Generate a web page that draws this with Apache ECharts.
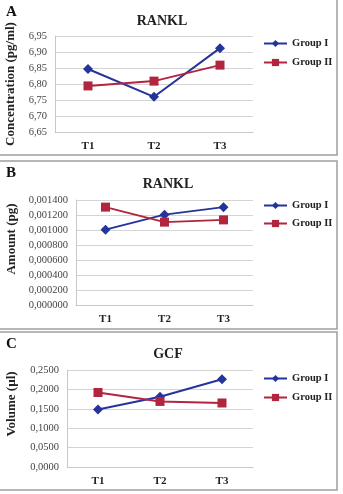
<!DOCTYPE html>
<html>
<head>
<meta charset="utf-8">
<script src="https://cdn.jsdelivr.net/npm/echarts@6/dist/echarts.min.js"></script>
<style>html,body{margin:0;padding:0;background:#fff}#c{width:343px;height:494px}</style>
</head>
<body>
<div id="c"></div>
<script>
var categories = ['T1', 'T2', 'T3'];
var seriesNames = ['Group I', 'Group II'];
// Panel A: RANKL concentration (pg/ml)
var aGroup1 = [6.847, 6.760, 6.912];
var aGroup2 = [6.794, 6.809, 6.859];
var aTicks = [6.65, 6.95, 0.05];
// Panel B: RANKL amount (pg)
var bGroup1 = [0.001005, 0.001205, 0.001305];
var bGroup2 = [0.001305, 0.001105, 0.001135];
var bTicks = [0, 0.0014, 0.0002];
// Panel C: GCF volume (µl)
var cGroup1 = [0.148, 0.181, 0.226];
var cGroup2 = [0.192, 0.169, 0.165];
var cTicks = [0, 0.25, 0.05];

var titles = ['RANKL', 'RANKL', 'GCF'];
var letters = ['A', 'B', 'C'];
var yNames = ['Concentration (pg/ml)', 'Amount (pg)', 'Volume (µl)'];

var BLUE = '#25349b', RED = '#b1253f';
var serif = '"Liberation Serif", "DejaVu Serif", serif';

function fmt(dec) {
  return function (v) { return v.toFixed(dec).replace('.', ','); };
}

var grids = [
  {left: 55, top: 36, width: 198, height: 96},
  {left: 76, top: 200, width: 177, height: 105},
  {left: 67, top: 370, width: 186, height: 97}
];
var ticks = [aTicks, bTicks, cTicks];
var decs = [2, 6, 4];
var data = [[aGroup1, aGroup2], [bGroup1, bGroup2], [cGroup1, cGroup2]];

var xAxes = [], yAxes = [], series = [], legends = [], titleArr = [];
var legendTops = [38, 200, 373];
var legendGaps = [8, 7, 8];
var titleTops = [9, 172, 342];
var titleCenters = [157, 163, 163];

for (var i = 0; i < 3; i++) {
  xAxes.push({
    type: 'category', gridIndex: i, data: categories,
    axisLine: {show: true, lineStyle: {color: '#c8c8c8', width: 1}},
    axisTick: {show: false},
    axisLabel: {color: '#222', fontFamily: serif, fontWeight: 'bold', fontSize: 11, margin: 9}
  });
  yAxes.push({
    type: 'value', gridIndex: i, min: ticks[i][0], max: ticks[i][1], interval: ticks[i][2],
    axisLine: {show: true, lineStyle: {color: '#c8c8c8', width: 1}},
    axisTick: {show: false},
    splitLine: {lineStyle: {color: '#d4d4d4', width: 1}},
    axisLabel: {color: '#444', fontFamily: serif, fontSize: 10.5, margin: 8, formatter: fmt(decs[i])}
  });
  series.push({
    name: seriesNames[0], type: 'line', xAxisIndex: i, yAxisIndex: i, data: data[i][0],
    symbol: 'diamond', symbolSize: 10, color: BLUE,
    lineStyle: {color: BLUE, width: 2}, itemStyle: {color: BLUE}, animation: false
  });
  series.push({
    name: seriesNames[1], type: 'line', xAxisIndex: i, yAxisIndex: i, data: data[i][1],
    symbol: 'rect', symbolSize: 9, color: RED,
    lineStyle: {color: RED, width: 2}, itemStyle: {color: RED}, animation: false
  });
  legends.push({
    orient: 'vertical', left: 263, top: legendTops[i], itemGap: legendGaps[i], padding: 0,
    itemWidth: 23, itemHeight: 9, data: seriesNames,
    textStyle: {fontFamily: serif, fontWeight: 'bold', fontSize: 10.5, color: '#222'}
  });
  titleArr.push({
    text: titles[i], left: titleCenters[i], top: titleTops[i], textAlign: 'center',
    textStyle: {fontFamily: serif, fontWeight: 'bold', fontSize: 14, color: '#222'}
  });
}

var panels = [[-2, -2, 339, 157], [-2, 161, 339, 168], [-2, 332, 339, 158]];
var graphic = [];
for (var j = 0; j < 3; j++) {
  graphic.push({
    type: 'rect', shape: {x: panels[j][0], y: panels[j][1], width: panels[j][2], height: panels[j][3]},
    style: {fill: 'none', stroke: '#9e9e9e', lineWidth: 1.5}, z: -1
  });
}
var letterPos = [[6, 5], [6, 166], [6, 337]];
for (var k = 0; k < 3; k++) {
  graphic.push({
    type: 'text', x: letterPos[k][0], y: letterPos[k][1],
    style: {text: letters[k], font: 'bold 15px ' + serif, fill: '#111'}
  });
}
var yNamePos = [[11, 84], [12, 239], [12, 404]];
for (var m = 0; m < 3; m++) {
  graphic.push({
    type: 'text', x: yNamePos[m][0], y: yNamePos[m][1], rotation: Math.PI / 2,
    style: {text: yNames[m], font: 'bold 13px ' + serif, fill: '#222', align: 'center', verticalAlign: 'middle'}
  });
}

var chart = echarts.init(document.getElementById('c'));
chart.setOption({
  animation: false,
  backgroundColor: '#fff',
  title: titleArr,
  legend: legends,
  grid: grids,
  xAxis: xAxes,
  yAxis: yAxes,
  series: series,
  graphic: graphic
});
</script>
</body>
</html>
